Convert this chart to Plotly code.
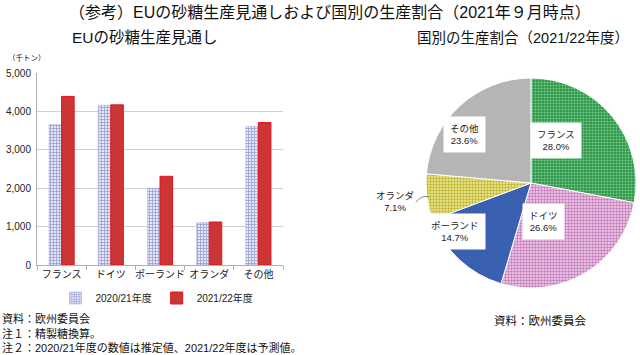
import math
import plotly.graph_objects as go

# ---- data ----
categories = ["フランス", "ドイツ", "ポーランド", "オランダ", "その他"]
prod_2020 = [3650, 4160, 2000, 1100, 3610]
prod_2021 = [4390, 4170, 2310, 1120, 3710]
series_names = ["2020/21年度", "2021/22年度"]
y_ticks = [0, 1000, 2000, 3000, 4000, 5000]

pie_labels = ["フランス", "ドイツ", "ポーランド", "オランダ", "その他"]
pie_shares = [28.0, 26.6, 14.7, 7.1, 23.6]

FONT = "Liberation Sans, Noto Sans CJK JP, sans-serif"
W, H = 640, 355

def px(x):
    return x / W

def py(y):
    return 1 - y / H

fig = go.Figure()

fig.add_trace(go.Bar(
    x=categories, y=prod_2020, name=series_names[0],
    marker=dict(color="#e6e8f8", line=dict(color="#9aa2dc", width=0.5),
                pattern=dict(shape="+", fgcolor="#4656b0", bgcolor="#e6e8f8", size=3, solidity=0.45)),
))
fig.add_trace(go.Bar(
    x=categories, y=prod_2021, name=series_names[1],
    marker=dict(color="#cc3535", line=dict(color="#e01818", width=1)),
))

# pie geometry
pie_x0, pie_x1, pie_y0, pie_y1 = 426, 636, 78, 288
cx, cy = (pie_x0 + pie_x1) / 2, (pie_y0 + pie_y1) / 2
R = (pie_x1 - pie_x0) / 2

pie_colors = ["#1f8a3a", "#d9a4d2", "#3a60b0", "#dcd450", "#b5b5b5"]
pie_bg = ["#1f8a3a", "#f2d2ee", "#3a60b0", "#f0ec9a", "#b5b5b5"]
pie_shapes = [".", ".", "", ".", ""]
pie_fg = ["#6cc482", "#c27ab8", "#3a60b0", "#bdb430", "#b5b5b5"]

fig.add_trace(go.Pie(
    labels=pie_labels, values=pie_shares, sort=False, direction="clockwise", rotation=0,
    domain=dict(x=[px(pie_x0), px(pie_x1)], y=[py(pie_y1), py(pie_y0)]),
    marker=dict(colors=pie_colors, line=dict(color="white", width=1),
                pattern=dict(shape=pie_shapes, fgcolor=pie_fg, bgcolor=pie_bg, size=3, solidity=0.5)),
    textinfo="none", hoverinfo="label+percent", showlegend=False, automargin=False,
))

annotations = []
cum = 0.0
total = sum(pie_shares)
for lab, v in zip(pie_labels, pie_shares):
    mid = (cum + v / 2) / total * 2 * math.pi
    cum += v
    txt = f"{lab}<br>{v:.1f}%"
    if v < 10:
        lx = cx + math.sin(mid) * R * 1.3
        ly = cy - math.cos(mid) * R * 1.3
        ex = cx + math.sin(mid) * R * 0.98
        ey = cy - math.cos(mid) * R * 0.98
        annotations.append(dict(x=px(lx), y=py(ly), xref="paper", yref="paper", text=txt,
                                showarrow=False, font=dict(size=9.5, family=FONT, color="#222"),
                                align="center"))
        fig.add_shape(type="path", xref="paper", yref="paper",
                      path=f"M {px(lx+20)} {py(ly+1)} Q {px(ex-8)} {py(ey-2)} {px(ex)} {py(ey)}",
                      line=dict(color="#666", width=0.8))
    else:
        f = 0.63
        lx = cx + math.sin(mid) * R * f
        ly = cy - math.cos(mid) * R * f
        annotations.append(dict(x=px(lx), y=py(ly), xref="paper", yref="paper", text=txt,
                                showarrow=False, font=dict(size=9.5, family=FONT, color="#222"),
                                bgcolor="white", borderpad=6, align="center"))

texts = [
    ("（参考）EUの砂糖生産見通しおよび国別の生産割合（2021年９月時点）", 330, 13, 16, "center"),
    ("EUの砂糖生産見通し", 145, 38, 15.5, "center"),
    ("国別の生産割合（2021/22年度）", 523, 38, 14.5, "center"),
    ("（千トン）", 6, 58, 7.5, "left"),
    ("資料：欧州委員会", 0, 318, 11, "left"),
    ("注１：精製糖換算。", 0, 333, 11, "left"),
    ("注２：2020/21年度の数値は推定値、2021/22年度は予測値。", 0, 347, 11, "left"),
    ("資料：欧州委員会", 540, 320, 11.5, "center"),
]
for t, x, y, s, anc in texts:
    annotations.append(dict(x=px(x), y=py(y), xref="paper", yref="paper", text=t, showarrow=False,
                            xanchor=anc, yanchor="middle", font=dict(size=s, family=FONT, color="#111")))

fig.update_layout(
    width=W, height=H, margin=dict(l=0, r=0, t=0, b=0, autoexpand=False),
    paper_bgcolor="white", plot_bgcolor="white",
    font=dict(family=FONT, color="#222", size=10),
    barmode="group", bargap=0.49, bargroupgap=0.0,
    xaxis=dict(domain=[px(37), px(283)], showline=True, linecolor="#b0b0b0", ticks="outside",
               tickson="boundaries", ticklen=4, tickcolor="#b0b0b0", tickfont=dict(size=10),
               tickangle=0, automargin=False),
    yaxis=dict(domain=[py(265), py(73)], range=[0, 5000], tickvals=y_ticks, tickformat=",",
               showgrid=True, gridcolor="#d0d0d0", showline=True, linecolor="#b0b0b0",
               zeroline=False, tickfont=dict(size=10), ticklabelstandoff=3, automargin=False),
    legend=dict(orientation="h", x=px(157), xanchor="center", y=py(298), yanchor="middle",
                font=dict(size=10), itemwidth=30, traceorder="normal"),
    annotations=annotations,
)

fig.write_html("out.html", post_script="document.body.style.margin='0';",
               config={"displayModeBar": False})
